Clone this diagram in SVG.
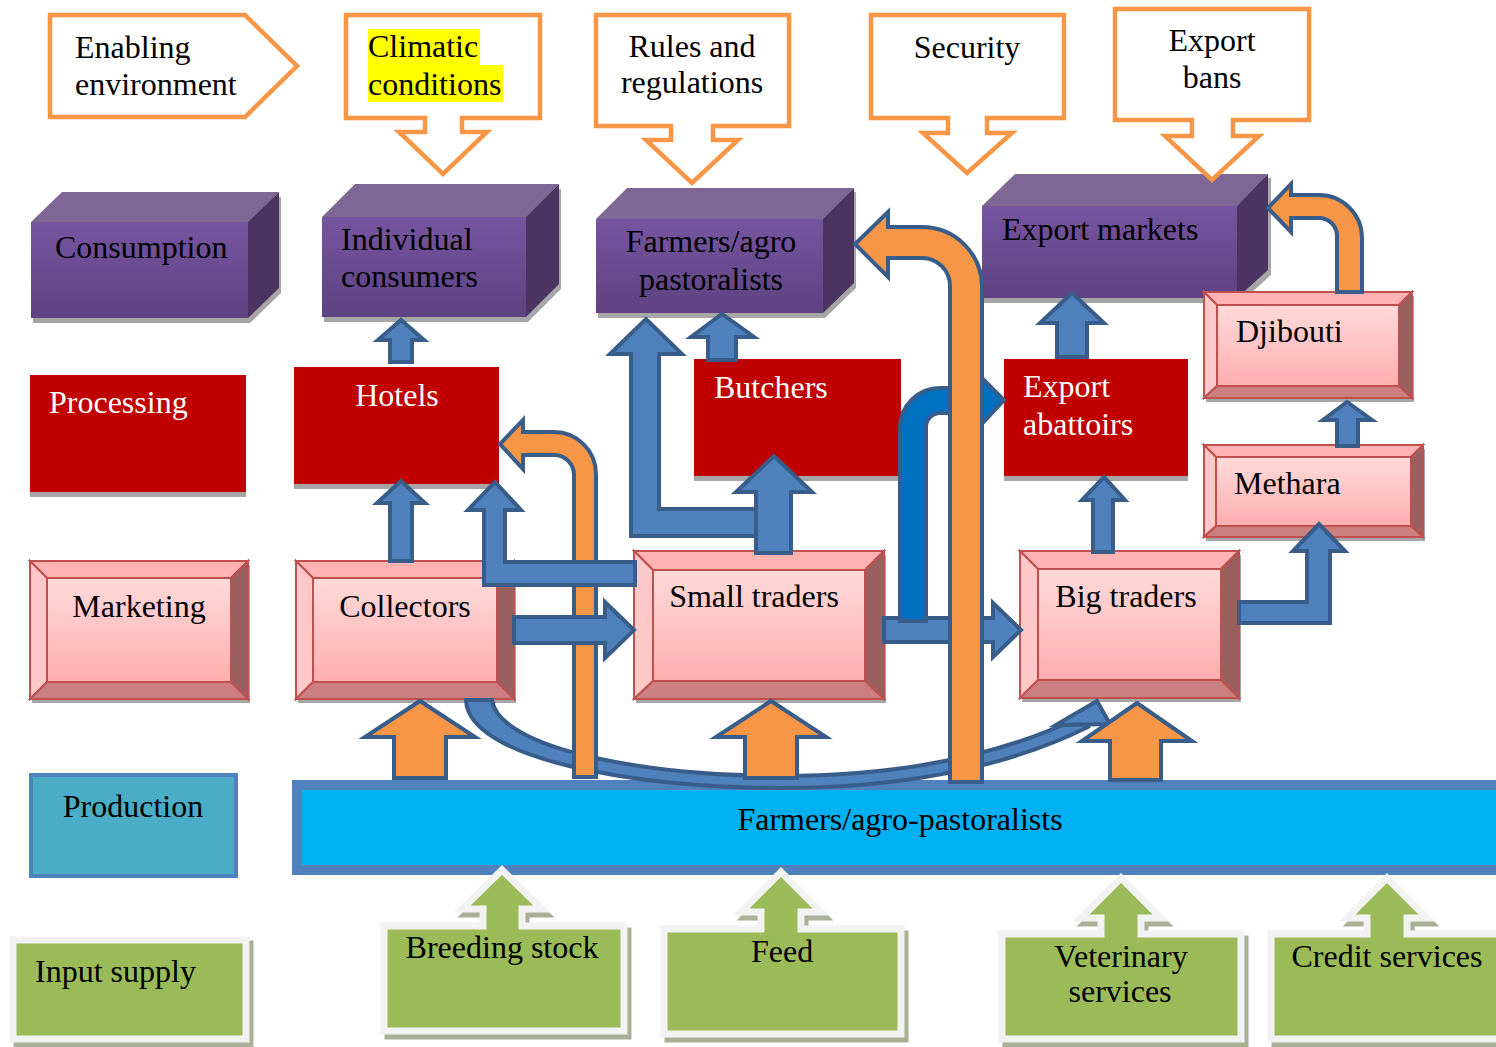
<svg xmlns="http://www.w3.org/2000/svg" width="1496" height="1047" viewBox="0 0 1496 1047">
<defs>
<style>
text{font-family:"Liberation Serif","Times New Roman",serif;font-size:32px;fill:#000}
.w{fill:#fff}
.m{text-anchor:middle}
.call{fill:#fff;stroke:#F79646;stroke-width:4.5;stroke-linejoin:miter}
.ptop{fill:#7E6695}
.pside{fill:#4B3462}
.pfront{fill:url(#gp)}
.psh{fill:#A6A6A6}
.red{fill:#C00000}
.sh{fill:#A6A6A6}
.bt{fill:#FFB3B3;stroke:#C0504D;stroke-width:2}
.bl{fill:#FFC8C8;stroke:#C0504D;stroke-width:2}
.br{fill:#9A6060;stroke:#C0504D;stroke-width:2}
.bb{fill:#CC7F7F;stroke:#C0504D;stroke-width:2}
.bi{fill:url(#gk);stroke:#C0504D;stroke-width:2}
.gsh{fill:#A9B096;stroke:#A9B096;stroke-width:7;stroke-linejoin:miter}
.grn{fill:#9BBB59;stroke:#F2F2F2;stroke-width:7;stroke-linejoin:miter}
.ba{fill:#4F81BD;stroke:#385D8A;stroke-width:4;stroke-linejoin:miter}
.da{fill:#0070C0;stroke:#385D8A;stroke-width:4;stroke-linejoin:miter}
.oa{fill:#F79646;stroke:#385D8A;stroke-width:4;stroke-linejoin:miter}
</style>
<linearGradient id="gp" x1="0" y1="0" x2="0" y2="1">
<stop offset="0" stop-color="#7655A0"/>
<stop offset="1" stop-color="#5E4282"/>
</linearGradient>
<linearGradient id="gk" x1="0" y1="0" x2="0" y2="1">
<stop offset="0" stop-color="#FFDADA"/>
<stop offset="1" stop-color="#FFAEAE"/>
</linearGradient>
</defs>
<rect width="1496" height="1047" fill="#fff"/>

<!-- Consumption row -->
<g id="consumption">
<path class="psh" d="M33 227 L64 197 L281 197 L281 293 L250 323 L33 323 Z"/>
<path class="ptop" d="M31 222 L62 192 L279 192 L248 222 Z"/>
<path class="pside" d="M248 222 L279 192 L279 288 L248 318 Z"/>
<rect class="pfront" x="31" y="222" width="217" height="96"/>
<text x="55" y="258">Consumption</text>
</g>
<g id="individual">
<path class="psh" d="M324 222 L357 189 L561 189 L561 289 L528 322 L324 322 Z"/>
<path class="ptop" d="M322 217 L355 184 L559 184 L526 217 Z"/>
<path class="pside" d="M526 217 L559 184 L559 284 L526 317 Z"/>
<rect class="pfront" x="322" y="217" width="204" height="100"/>
<text x="341" y="250">Individual</text>
<text x="341" y="287">consumers</text>
</g>
<g id="farmerstop">
<path class="psh" d="M598 223 L629 192 L856 192 L856 288 L825 318 L598 318 Z"/>
<path class="ptop" d="M596 219 L627 188 L854 188 L823 219 Z"/>
<path class="pside" d="M823 219 L854 188 L854 283 L823 313 Z"/>
<rect class="pfront" x="596" y="219" width="227" height="94"/>
<text class="m" x="711" y="252">Farmers/agro</text>
<text class="m" x="711" y="290">pastoralists</text>
</g>
<g id="exportmarkets">
<path class="psh" d="M984 210 L1017 178 L1271 178 L1271 275 L1240 303 L984 303 Z"/>
<path class="ptop" d="M982 206 L1015 174 L1268 174 L1237 206 Z"/>
<path class="pside" d="M1237 206 L1268 174 L1268 270 L1237 298 Z"/>
<rect class="pfront" x="982" y="206" width="255" height="92"/>
<text x="1002" y="240">Export markets</text>
</g>

<!-- Enabling environment row -->
<g id="enabling">
<path class="call" d="M50 15 L245 15 L297 66 L245 117 L50 117 Z"/>
<text x="75" y="58">Enabling</text>
<text x="75" y="95">environment</text>
</g>
<g id="climatic">
<path class="call" d="M346 15 L540 15 L540 118 L462 118 L462 132 L487 132 L443 174 L399 132 L425 132 L425 118 L346 118 Z"/>
<rect x="368" y="29" width="112" height="36" fill="#FFFF00"/>
<rect x="368" y="65" width="135" height="37" fill="#FFFF00"/>
<text x="368" y="57">Climatic</text>
<text x="368" y="95">conditions</text>
</g>
<g id="rules">
<path class="call" d="M596 15 L789 15 L789 126 L713 126 L713 140 L738 140 L692 183 L646 140 L671 140 L671 126 L596 126 Z"/>
<text class="m" x="692" y="57">Rules and</text>
<text class="m" x="692" y="93">regulations</text>
</g>
<g id="security">
<path class="call" d="M871 15 L1064 15 L1064 118 L987 118 L987 133 L1012 133 L967 173 L923 133 L948 133 L948 118 L871 118 Z"/>
<text class="m" x="967" y="58">Security</text>
</g>
<g id="exportbans">
<path class="call" d="M1115 9 L1309 9 L1309 120 L1233 120 L1233 136 L1259 136 L1212 180 L1165 136 L1192 136 L1192 120 L1115 120 Z"/>
<text class="m" x="1212" y="51">Export</text>
<text class="m" x="1212" y="88">bans</text>
</g>

<!-- Processing row -->
<g id="processing">
<rect class="sh" x="30" y="380" width="216" height="117"/>
<rect class="red" x="30" y="375" width="216" height="117"/>
<text class="w" x="49" y="413">Processing</text>
</g>
<g id="hotels">
<rect class="sh" x="294" y="372" width="205" height="117"/>
<rect class="red" x="294" y="367" width="205" height="117"/>
<text class="w m" x="397" y="406">Hotels</text>
</g>
<g id="butchers">
<rect class="sh" x="694" y="364" width="207" height="117"/>
<rect class="red" x="694" y="359" width="207" height="117"/>
<text class="w" x="714" y="398">Butchers</text>
</g>
<g id="abattoirs">
<rect class="sh" x="1004" y="364" width="184" height="117"/>
<rect class="red" x="1004" y="359" width="184" height="117"/>
<text class="w" x="1023" y="397">Export</text>
<text class="w" x="1023" y="435">abattoirs</text>
</g>

<!-- Marketing row -->
<g id="marketing">
<rect class="sh" x="32" y="565" width="218" height="138"/>
<path class="bt" d="M30 561 L248 561 L231 578 L47 578 Z"/>
<path class="bl" d="M30 561 L47 578 L47 682 L30 699 Z"/>
<path class="br" d="M248 561 L248 699 L231 682 L231 578 Z"/>
<path class="bb" d="M30 699 L248 699 L231 682 L47 682 Z"/>
<rect class="bi" x="47" y="578" width="184" height="104"/>
<text class="m" x="139" y="617">Marketing</text>
</g>
<g id="collectors">
<rect class="sh" x="298" y="565" width="218" height="138"/>
<path class="bt" d="M296 561 L514 561 L497 578 L313 578 Z"/>
<path class="bl" d="M296 561 L313 578 L313 682 L296 699 Z"/>
<path class="br" d="M514 561 L514 699 L497 682 L497 578 Z"/>
<path class="bb" d="M296 699 L514 699 L497 682 L313 682 Z"/>
<rect class="bi" x="313" y="578" width="184" height="104"/>
<text class="m" x="405" y="617">Collectors</text>
</g>
<g id="smalltraders">
<rect class="sh" x="636" y="555" width="250" height="148"/>
<path class="bt" d="M634 551 L884 551 L865 570 L653 570 Z"/>
<path class="bl" d="M634 551 L653 570 L653 681 L634 699 Z"/>
<path class="br" d="M884 551 L884 699 L865 681 L865 570 Z"/>
<path class="bb" d="M634 699 L884 699 L865 681 L653 681 Z"/>
<rect class="bi" x="653" y="570" width="212" height="111"/>
<text class="m" x="754" y="607">Small traders</text>
</g>
<g id="bigtraders">
<rect class="sh" x="1022" y="555" width="219" height="147"/>
<path class="bt" d="M1020 551 L1239 551 L1221 569 L1038 569 Z"/>
<path class="bl" d="M1020 551 L1038 569 L1038 680 L1020 698 Z"/>
<path class="br" d="M1239 551 L1239 698 L1221 680 L1221 569 Z"/>
<path class="bb" d="M1020 698 L1239 698 L1221 680 L1038 680 Z"/>
<rect class="bi" x="1038" y="569" width="183" height="111"/>
<text class="m" x="1126" y="607">Big traders</text>
</g>
<g id="methara">
<rect class="sh" x="1206" y="449" width="219" height="92"/>
<path class="bt" d="M1204 445 L1423 445 L1411 457 L1216 457 Z"/>
<path class="bl" d="M1204 445 L1216 457 L1216 526 L1204 537 Z"/>
<path class="br" d="M1423 445 L1423 537 L1411 526 L1411 457 Z"/>
<path class="bb" d="M1204 537 L1423 537 L1411 526 L1216 526 Z"/>
<rect class="bi" x="1216" y="457" width="195" height="69"/>
<text x="1234" y="494">Methara</text>
</g>
<g id="djibouti">
<rect class="sh" x="1206" y="296" width="208" height="106"/>
<path class="bt" d="M1204 292 L1412 292 L1399 305 L1217 305 Z"/>
<path class="bl" d="M1204 292 L1217 305 L1217 386 L1204 398 Z"/>
<path class="br" d="M1412 292 L1412 398 L1399 386 L1399 305 Z"/>
<path class="bb" d="M1204 398 L1412 398 L1399 386 L1217 386 Z"/>
<rect class="bi" x="1217" y="305" width="182" height="81"/>
<text x="1236" y="342">Djibouti</text>
</g>

<!-- Production row -->
<g id="production">
<rect x="31" y="775" width="205" height="101" fill="#4BACC6" stroke="#4F81BD" stroke-width="4"/>
<text class="m" x="133" y="817">Production</text>
</g>
<g id="farmersbar">
<rect x="297" y="785" width="1230" height="85" fill="#00B0F0" stroke="#4F81BD" stroke-width="10"/>
<text class="m" x="900" y="830">Farmers/agro-pastoralists</text>
</g>

<!-- Input supply row -->
<g id="inputsupply">
<rect class="gsh" x="17" y="944" width="233" height="100"/>
<rect class="grn" x="13" y="940" width="233" height="99"/>
<text x="35" y="982">Input supply</text>
</g>
<g id="breeding">
<path class="gsh" transform="translate(4,5)" d="M384 926 L483 926 L483 909 L462 909 L502 870 L542 909 L522 909 L522 926 L624 926 L624 1031 L384 1031 Z"/>
<path class="grn" d="M384 926 L483 926 L483 909 L462 909 L502 870 L542 909 L522 909 L522 926 L624 926 L624 1031 L384 1031 Z"/>
<text class="m" x="502" y="958">Breeding stock</text>
</g>
<g id="feed">
<path class="gsh" transform="translate(4,5)" d="M664 929 L761 929 L761 912 L741 912 L781 872 L821 912 L801 912 L801 929 L901 929 L901 1034 L664 1034 Z"/>
<path class="grn" d="M664 929 L761 929 L761 912 L741 912 L781 872 L821 912 L801 912 L801 929 L901 929 L901 1034 L664 1034 Z"/>
<text x="751" y="962">Feed</text>
</g>
<g id="veterinary">
<path class="gsh" transform="translate(4,5)" d="M1002 934 L1101 934 L1101 918 L1081 918 L1121 878 L1161 918 L1141 918 L1141 934 L1241 934 L1241 1039 L1002 1039 Z"/>
<path class="grn" d="M1002 934 L1101 934 L1101 918 L1081 918 L1121 878 L1161 918 L1141 918 L1141 934 L1241 934 L1241 1039 L1002 1039 Z"/>
<text class="m" x="1121" y="967">Veterinary</text>
<text class="m" x="1120" y="1002">services</text>
</g>
<g id="credit">
<path class="gsh" transform="translate(4,5)" d="M1271 934 L1367 934 L1367 918 L1347 918 L1387 878 L1427 918 L1407 918 L1407 934 L1510 934 L1510 1039 L1271 1039 Z"/>
<path class="grn" d="M1271 934 L1367 934 L1367 918 L1347 918 L1387 878 L1427 918 L1407 918 L1407 934 L1510 934 L1510 1039 L1271 1039 Z"/>
<text class="m" x="1387" y="967">Credit services</text>
</g>

<!-- Connectors -->
<g id="connectors">
<!-- curved arrow collectors -> big traders -->
<path class="ba" stroke-width="3" d="M466 700 C468 760 640 788 780 788 C900 788 1005 768 1088 727 L1082 716 C1000 756 900 776 780 776 C650 776 500 750 492 700 Z"/>
<path class="ba" stroke-width="3" d="M1056 725 L1097 701 L1110 724 Z"/>
<!-- orange up arrows from bar -->
<path class="oa" d="M394 778 L394 737 L365 737 L420 701 L475 737 L446 737 L446 778 Z"/>
<path class="oa" d="M745 778 L745 737 L716 737 L771 701 L826 737 L797 737 L797 778 Z"/>
<path class="oa" d="M1110 780 L1110 741 L1082 741 L1137 703 L1192 741 L1161 741 L1161 780 Z"/>
<!-- orange farmers -> hotels -->
<path class="oa" d="M596 777 L596 474 A42 42 0 0 0 554 432 L523 432 L523 420 L500 444 L523 469 L523 455 L554 455 A20 20 0 0 1 574 475 L574 777 Z"/>
<!-- hotels -> individual consumers -->
<path class="ba" d="M390 362 L390 340 L378 340 L401 320 L424 340 L412 340 L412 362 Z"/>
<!-- collectors -> hotels -->
<path class="ba" d="M390 561 L390 503 L377 503 L401 481 L425 503 L412 503 L412 561 Z"/>
<!-- small traders -> hotels -->
<path class="ba" d="M635 562 L505 562 L505 510 L521 510 L495 482 L468 510 L484 510 L484 585 L635 585 Z"/>
<!-- collectors -> small traders -->
<path class="ba" d="M514 617 L605 617 L605 602 L634 630 L605 658 L605 643 L514 643 Z"/>
<!-- small traders -> farmers/agro (top) -->
<path class="ba" d="M760 509 L659 509 L659 354 L682 354 L646 319 L610 354 L631 354 L631 536 L760 536 Z"/>
<!-- small traders -> butchers -->
<path class="ba" d="M756 553 L756 492 L736 492 L774 456 L812 492 L791 492 L791 553 Z"/>
<!-- butchers -> farmers/agro (top) -->
<path class="ba" d="M708 360 L708 337 L691 337 L722 314 L754 337 L736 337 L736 360 Z"/>
<!-- small traders -> big traders -->
<path class="ba" d="M884 618 L993 618 L993 603 L1021 630 L993 657 L993 642 L884 642 Z"/>
<!-- small traders -> export abattoirs (dark blue) -->
<path class="da" d="M900 621 L900 428 A40 40 0 0 1 940 388 L979 388 L979 375 L1004 400 L979 427 L979 413 L940 413 A14 14 0 0 0 926 427 L926 621 Z"/>
<!-- orange farmers bar -> farmers/agro (top) -->
<path class="oa" d="M982 782 L982 287 A60 60 0 0 0 922 227 L888 227 L888 212 L855 244 L888 277 L888 258 L922 258 A28 28 0 0 1 950 286 L950 782 Z"/>
<!-- big traders -> export abattoirs -->
<path class="ba" d="M1093 552 L1093 500 L1082 500 L1104 477 L1125 500 L1113 500 L1113 552 Z"/>
<!-- export abattoirs -> export markets -->
<path class="ba" d="M1057 357 L1057 323 L1040 323 L1072 293 L1104 323 L1087 323 L1087 357 Z"/>
<!-- methara -> djibouti -->
<path class="ba" d="M1337 446 L1337 420 L1323 420 L1347 402 L1372 420 L1358 420 L1358 446 Z"/>
<!-- big traders -> methara -->
<path class="ba" d="M1239 602 L1307 602 L1307 551 L1293 551 L1319 524 L1345 551 L1330 551 L1330 623 L1239 623 Z"/>
<!-- djibouti -> export markets -->
<path class="oa" d="M1362 292 L1362 238 A43 43 0 0 0 1319 195 L1291 195 L1291 184 L1268 208 L1291 232 L1291 218 L1319 218 A18 18 0 0 1 1337 236 L1337 292 Z"/>
</g>
</svg>
